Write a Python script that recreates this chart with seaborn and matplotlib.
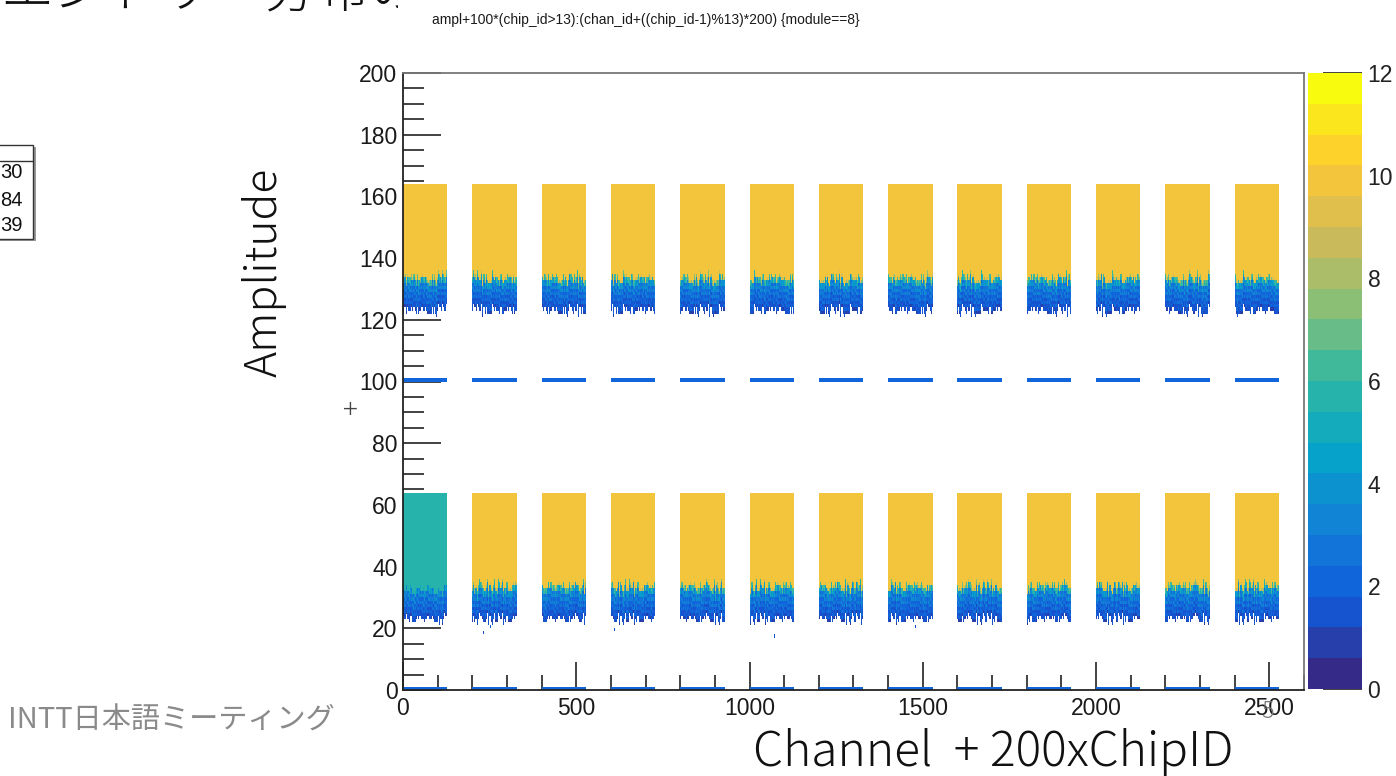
import numpy as np
import pandas as pd
import matplotlib
matplotlib.use("Agg")
import matplotlib.pyplot as plt
import seaborn as sns
from matplotlib.colors import LinearSegmentedColormap, ListedColormap, BoundaryNorm
from matplotlib.patches import Rectangle
from matplotlib.lines import Line2D

# ---------------------------------------------------------------- data
chip_slots = list(range(13))            # (chip_id-1)%13
n_channels = 128
chip_pitch = 200
half_offsets = [0, 100]                 # +100 for chip_id > 13
n_ampl = 64

# hits per (channel, ampl) bin on the plateau of each chip
plateau_lower = [5.5, 10, 10, 10, 10, 10, 10, 10, 10, 10, 10, 10, 10]
plateau_upper = [10, 10, 10, 10, 10, 10, 10, 10, 10, 10, 10, 10, 10]

# hits in the turn-on rows (above the last entry the plateau takes over)
turnon_ampl = [23, 24, 25, 26, 27, 28, 29, 30, 31, 32, 33]
turnon_counts = [1.3, 1.6, 1.9, 2.1, 2.3, 2.5, 2.7, 3.0, 3.6, 5.0, 7.5]

# channel-to-channel shift of the turn-on edge (ampl units)
edge_shift = [0, 1, -1, 1, 0, -1, 1, 0, -1, 0, 2, -1, 0, -2, 1, 0, 1, -1,
              -1, 1, 0, 1, -1, 0, 1, -2, 1, -1, 0, 1, -1, 2, 0, -1, 1, 0,
              -1, 1, 0, -1, 0, 1, 2, -1]
# bin-to-bin spread of the turn-on counts
count_spread = [1.0, 0.8, 1.25, 0.9, 1.15, 0.75, 1.35, 1.0, 0.85, 1.2, 0.8]

zero_ampl_counts = 2.0                  # ampl==0 row of every chip

# isolated low-ampl hits: (x, y)
isolated_hits = [(105, 21), (232, 18), (252, 20), (548, 22), (610, 19),
                 (1072, 17), (1478, 20), (2380, 22), (101, 121),
                 (236, 119), (580, 118), (1840, 121)]

x_tick_values = [0, 500, 1000, 1500, 2000, 2500]
y_tick_values = [0, 20, 40, 60, 80, 100, 120, 140, 160, 180, 200]
z_tick_values = [0, 2, 4, 6, 8, 10, 12]
x_range = 2600
y_range = 200
z_max = 12
n_contours = 20

title = "ampl+100*(chip_id>13):(chan_id+((chip_id-1)%13)*200) {module==8}"

# ------------------------------------------------------ fill histogram
hist = np.full((y_range, x_range), np.nan)
for half, plateaus in zip(half_offsets, [plateau_lower, plateau_upper]):
    for slot, plat in zip(chip_slots, plateaus):
        x0 = slot * chip_pitch
        for ch in range(n_channels):
            s = edge_shift[(ch + 11 * slot + (17 if half else 0)) % len(edge_shift)]
            for a in range(n_ampl):
                rel = a - s
                if a == 0:
                    val = zero_ampl_counts
                elif rel < turnon_ampl[0]:
                    continue
                elif rel <= turnon_ampl[-1]:
                    k = turnon_ampl.index(rel)
                    f = count_spread[(ch * 3 + a + slot) % len(count_spread)]
                    val = min(turnon_counts[k] * f, plat)
                else:
                    val = plat
                hist[half + a, x0 + ch] = val
for hx, hy in isolated_hits:
    hist[hy, hx] = 1.5

df = pd.DataFrame(hist, index=np.arange(y_range), columns=np.arange(x_range))

# ROOT kBird palette, split into 20 contour bands
bird = [(0.2082, 0.1664, 0.5293), (0.0592, 0.3599, 0.8684),
        (0.0780, 0.5041, 0.8385), (0.0232, 0.6419, 0.7914),
        (0.1802, 0.7178, 0.6425), (0.5301, 0.7492, 0.4662),
        (0.8186, 0.7328, 0.3499), (0.9956, 0.7862, 0.1968),
        (0.9764, 0.9832, 0.0539)]
bird_cmap = LinearSegmentedColormap.from_list("bird", bird)
cmap = ListedColormap(bird_cmap(np.linspace(0, 1, n_contours)))
norm = BoundaryNorm(np.linspace(0, z_max, n_contours + 1), n_contours)

# ---------------------------------------------------------------- figure
sns.set_theme(style="white")
plt.rcParams["font.family"] = ["Liberation Sans", "DejaVu Sans"]

W, H = 1396, 776
def fx(x):
    return x / W
def fy(y):
    return 1 - y / H

fig = plt.figure(figsize=(W / 100, H / 100), dpi=100, facecolor="white")
ax = fig.add_axes([fx(403), fy(690), (1304 - 403) / W, (690 - 73) / H])
cax = fig.add_axes([fx(1308), fy(689), 54 / W, (689 - 73) / H])

sns.heatmap(df, ax=ax, cmap=cmap, norm=norm, cbar_ax=cax,
            xticklabels=False, yticklabels=False, rasterized=True,
            cbar_kws={"ticks": z_tick_values})

ax.set_xlim(0, x_range)
ax.set_ylim(0, y_range)
ax.set_xlabel("")
ax.set_ylabel("")
ax.set_xticks(x_tick_values)
ax.set_xticklabels([str(v) for v in x_tick_values])
ax.set_yticks(y_tick_values)
ax.set_yticklabels([str(v) for v in y_tick_values])
ax.set_xticks(np.arange(0, x_range + 1, 100), minor=True)
ax.set_yticks(np.arange(0, y_range + 1, 5), minor=True)
ax.tick_params(axis="both", which="both", direction="in", colors="#222222",
               top=False, right=False, left=True, bottom=True, width=1.2)
ax.tick_params(axis="y", which="major", length=27, pad=4, labelsize=16.5)
ax.tick_params(axis="y", which="minor", length=15)
ax.tick_params(axis="x", which="major", length=20, pad=5, labelsize=16.5)
ax.tick_params(axis="x", which="minor", length=11)
for lab in ax.get_xticklabels() + ax.get_yticklabels():
    lab.set_color("#1a1a1a")
for side in ["left", "bottom"]:
    ax.spines[side].set_visible(True)
    ax.spines[side].set_color("#222222")
    ax.spines[side].set_linewidth(1.3)
for side in ["top", "right"]:
    ax.spines[side].set_visible(True)
    ax.spines[side].set_color("#777777")
    ax.spines[side].set_linewidth(1.3)

cb = ax.collections[0].colorbar
cb.set_ticks(z_tick_values)
cb.set_ticklabels([str(v) for v in z_tick_values])
cb.outline.set_visible(False)
cax.minorticks_off()
cax.tick_params(which="minor", length=0)
cax.tick_params(which="major", direction="in", length=28, width=1.2,
                colors="#222222", labelsize=16.5, pad=4)
cax.yaxis.set_ticks_position("right")

# ROOT canvas backdrop over the slide title strip
fig.add_artist(Rectangle((fx(398), fy(60)), 1 - fx(398), 60 / H,
                         transform=fig.transFigure, facecolor="white",
                         edgecolor="none", zorder=3))
fig.text(fx(646), fy(20), title, ha="center", va="center", fontsize=10,
         color="#1a1a1a", zorder=4)

# slide texts
cjk = ["Noto Sans CJK JP", "DejaVu Sans"]
fig.text(fx(0), fy(6), "エントリー分布の比較", ha="left", va="baseline",
         fontsize=38, family=cjk, fontweight="light", color="#111111", zorder=2)
fig.text(fx(264), fy(272), "Amplitude", rotation=90, ha="center", va="center",
         fontsize=32, family=cjk, fontweight="light", color="#111111")
fig.text(fx(350), fy(410), "+", ha="center", va="center", fontsize=20,
         family=cjk, fontweight="light", color="#444444")
fig.text(fx(993), fy(766), "Channel  + 200xChipID", ha="center", va="baseline",
         fontsize=34.5, family=cjk, fontweight="light", color="#111111")
fig.text(fx(8), fy(729), "INTT日本語ミーティング", ha="left", va="baseline",
         fontsize=21, family=cjk, color="#8a8a8a")
fig.text(fx(1268), fy(718), "5", ha="center", va="baseline", fontsize=17,
         family=cjk, fontweight="light", color="#777777", zorder=5)

# edge of a neighbouring statistics box
fig.add_artist(Rectangle((fx(-100), fy(241)), 136 / W, (241 - 147) / H,
                         transform=fig.transFigure, facecolor="#999999",
                         edgecolor="none"))
fig.add_artist(Rectangle((fx(-100), fy(239)), 133 / W, (239 - 145) / H,
                         transform=fig.transFigure, facecolor="white",
                         edgecolor="#333333", linewidth=1.0))
fig.add_artist(Line2D([fx(0), fx(33)], [fy(161), fy(161)],
                      transform=fig.transFigure, color="#333333", linewidth=1.0))
for txt, yy in zip(["30", "84", "39"], [173, 200, 225]):
    fig.text(fx(23), fy(yy), txt, ha="right", va="center", fontsize=14.5,
             color="#111111")

fig.savefig("out.png", dpi=100, facecolor="white")
